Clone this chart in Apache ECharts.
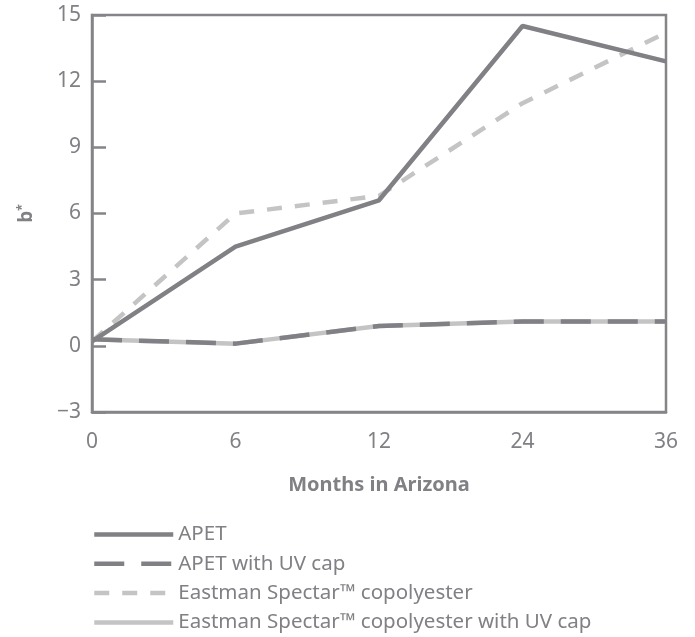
<!DOCTYPE html>
<html>
<head>
<meta charset="utf-8">
<script src="https://cdn.jsdelivr.net/npm/echarts@6/dist/echarts.min.js"></script>
<style>html,body{margin:0;padding:0;background:#fff}#c{width:695px;height:637px}</style>
</head>
<body>
<div id="c"></div>
<script>
var months = ['0', '6', '12', '24', '36'];
var apet = [0.2, 4.5, 6.6, 14.5, 12.9];
var apetUV = [0.3, 0.1, 0.9, 1.1, 1.1];
var spectar = [0.2, 6.0, 6.8, 11.0, 14.2];
var spectarUV = [0.3, 0.1, 0.9, 1.1, 1.1];
var seriesNames = ['APET', 'APET with UV cap', 'Eastman Spectar\u2122 copolyester', 'Eastman Spectar\u2122 copolyester with UV cap'];

var dark = '#808085';
var light = '#c4c4c4';
var axisCol = '#858489';
var textCol = '#808085';
var font = 'Noto Sans';

var chart = echarts.init(document.getElementById('c'));
chart.setOption({
  animation: false,
  textStyle: { fontFamily: font, color: textCol },
  grid: { left: 92, top: 15, right: 29, bottom: 225, show: true, borderColor: axisCol, borderWidth: 2.5 },
  legend: {
    orient: 'vertical', left: 92, top: 524, bottom: 0, padding: 0, itemWidth: 79, itemHeight: 14, itemGap: 8.3,
    itemStyle: { opacity: 0 },
    lineStyle: { width: 4.5 },
    textStyle: { fontFamily: font, fontSize: 20.5, color: textCol, padding: [0, 0, 0, 0] },
    data: seriesNames
  },
  xAxis: {
    type: 'category', data: months, boundaryGap: false,
    axisLine: { onZero: false, lineStyle: { color: axisCol, width: 2.5 } },
    axisTick: { show: false },
    axisLabel: { fontSize: 21, color: textCol, margin: 20, fontFamily: font },
    name: 'Months in Arizona', nameLocation: 'middle', nameGap: 63,
    nameTextStyle: { fontSize: 20, fontWeight: 'bold', color: textCol, fontFamily: font }
  },
  yAxis: {
    type: 'value', min: -3, max: 15, interval: 3,
    axisLine: { show: true, lineStyle: { color: axisCol, width: 2.5 } },
    axisTick: { show: true, inside: true, length: 14, lineStyle: { color: axisCol, width: 2.5 } },
    splitLine: { show: false },
    axisLabel: { fontSize: 21, color: textCol, margin: 11, fontFamily: font,
      formatter: function (v) { return v < 0 ? '\u2212' + Math.abs(v) : String(v); } },
    name: '{b|b}{s|*}', nameLocation: 'middle', nameGap: 55,
    nameTextStyle: {
      rich: {
        b: { fontSize: 19, fontWeight: 'bold', color: textCol, fontFamily: font },
        s: { fontSize: 12, fontWeight: 'bold', color: textCol, fontFamily: font, verticalAlign: 'top', padding: [0, 0, 8, 0] }
      }
    }
  },
  series: [
    { name: seriesNames[0], type: 'line', data: apet, symbol: 'none', z: 4,
      lineStyle: { color: dark, width: 4.5, type: 'solid' }, itemStyle: { color: dark } },
    { name: seriesNames[1], type: 'line', data: apetUV, symbol: 'none', z: 3,
      lineStyle: { color: dark, width: 4.5, type: [30, 17] }, itemStyle: { color: dark } },
    { name: seriesNames[2], type: 'line', data: spectar, symbol: 'none', z: 2,
      lineStyle: { color: light, width: 4.5, type: [15, 13] }, itemStyle: { color: light } },
    { name: seriesNames[3], type: 'line', data: spectarUV, symbol: 'none', z: 1,
      lineStyle: { color: light, width: 4.5, type: 'solid' }, itemStyle: { color: light } }
  ]
});
</script>
</body>
</html>
